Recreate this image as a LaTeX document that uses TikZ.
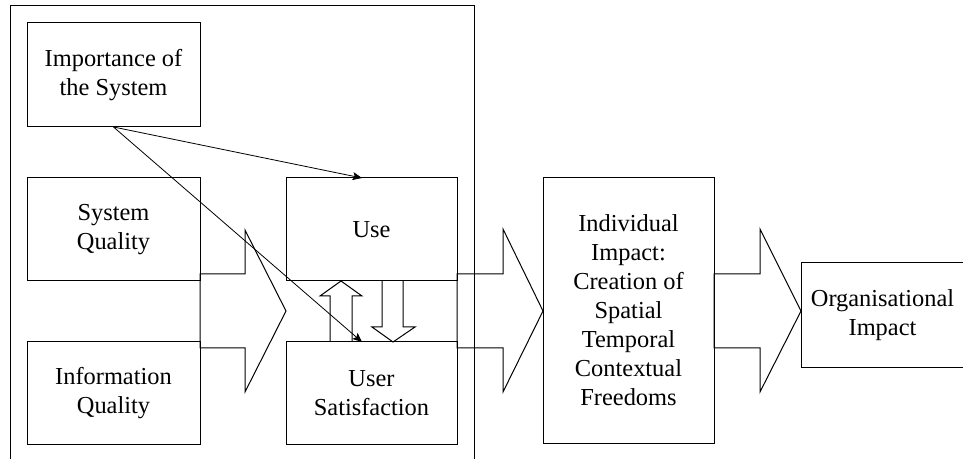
\documentclass[tikz,border=0pt]{standalone}
\usepackage{fontspec}
\setmainfont{Liberation Serif}
\usetikzlibrary{arrows.meta}

\begin{document}
\begin{tikzpicture}[x=0.75pt,y=-0.75pt,>={Stealth[length=7pt,width=6pt,inset=1.5pt]},line width=0.75pt,
    box/.style={draw,rectangle,inner sep=0pt,outer sep=0pt,align=center,
        font=\fontsize{18.3}{21.75}\selectfont}]

            \useasboundingbox (0,0) rectangle (963,459);

            % frame round the left part, open at the bottom
            \draw (10,470) -- (10,6) -- (474,6) -- (474,470);

            \node[box,minimum width=129.75pt,minimum height=78pt] (imp) at (113.5,75) {Importance of\\the System};
            \node[box,minimum width=129.75pt,minimum height=77.25pt] (sq) at (113.5,229.5) {System\\Quality};
            \node[box,minimum width=129.75pt,minimum height=76.5pt] (iq) at (113.5,393) {Information\\Quality};
            \node[box,minimum width=128.25pt,minimum height=77.25pt] (use) at (371.5,229.5) {Use};
            \node[box,minimum width=128.25pt,minimum height=76.5pt] (us) at (371.5,393) {User\\Satisfaction};
            \node[box,minimum width=128.25pt,minimum height=198.75pt] (ind) at (628.5,310.5) {Individual\\Impact:\\Creation of\\Spatial\\Temporal\\Contextual\\Freedoms};
            \node[box,minimum width=122.25pt,minimum height=78pt] (org) at (882.5,315) {Organisational\\Impact};

            % block arrows
            \draw (sq.east |- 0,274) -- (245,274) -- (245,230) -- (use.west |- 0,311)
                  -- (245,392) -- (245,348) -- (iq.east |- 0,348) -- cycle;
            \draw (use.east |- 0,274) -- (503,274) -- (503,229) -- (ind.west |- 0,311)
                  -- (503,392) -- (503,348) -- (us.east |- 0,348) -- cycle;
            \draw (ind.east |- 0,274) -- (760,274) -- (760,229) -- (org.west |- 0,311)
                  -- (760,392) -- (760,348) -- (ind.east |- 0,348) -- cycle;

            \draw (us.north -| 330,0) -- (330,296) -- (320,296) -- (use.south -| 341,0)
                  -- (362,296) -- (352,296) -- (us.north -| 352,0);
            \draw (use.south -| 382,0) -- (382,327) -- (372,327) -- (us.north -| 393,0)
                  -- (415,327) -- (403,327) -- (use.south -| 403,0);

            \path[->,line width=0.6pt] (imp.south) edge (use.north -| 362,0)
                      (imp.south) edge (us.north -| 362,0);

        \end{tikzpicture}
\end{document}
